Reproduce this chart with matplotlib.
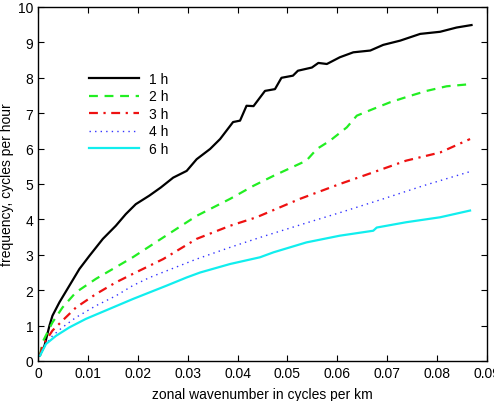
import matplotlib
matplotlib.use("Agg")
import matplotlib.pyplot as plt

plt.rcParams['font.family'] = ['Liberation Sans', 'DejaVu Sans']

labels = ["1 h", "2 h", "3 h", "4 h", "6 h"]

x_1h = [0.0003, 0.0013, 0.0023, 0.0029, 0.0043, 0.0063, 0.0083, 0.0103, 0.0130, 0.0156,
        0.0176, 0.0196, 0.0223, 0.0246, 0.0271, 0.0298, 0.0318, 0.0345, 0.0365, 0.0391,
        0.0405, 0.0418, 0.0432, 0.0455, 0.0475, 0.0488, 0.0511, 0.0521, 0.0549, 0.0562,
        0.0579, 0.0605, 0.0632, 0.0666, 0.0692, 0.0726, 0.0766, 0.0806, 0.0839, 0.0869]
y_1h = [0.15, 0.43, 1.00, 1.28, 1.66, 2.13, 2.60, 2.97, 3.45, 3.82,
        4.15, 4.43, 4.67, 4.90, 5.18, 5.37, 5.70, 5.99, 6.27, 6.75,
        6.79, 7.21, 7.20, 7.63, 7.68, 8.00, 8.06, 8.20, 8.29, 8.42,
        8.39, 8.58, 8.72, 8.77, 8.93, 9.05, 9.24, 9.30, 9.42, 9.49]

x_2h = [0.0004, 0.0009, 0.0029, 0.0049, 0.0076, 0.0116, 0.0156, 0.0190, 0.0251, 0.0318,
        0.0385, 0.0432, 0.0472, 0.0538, 0.0559, 0.0585, 0.0619, 0.0639, 0.0672, 0.0706,
        0.0746, 0.0779, 0.0819, 0.0866]
y_2h = [0.15, 0.53, 1.09, 1.51, 1.94, 2.32, 2.65, 2.93, 3.49, 4.10,
        4.58, 4.95, 5.23, 5.66, 5.99, 6.22, 6.60, 6.93, 7.12, 7.31,
        7.49, 7.63, 7.76, 7.82]

x_3h = [0.0004, 0.0009, 0.0029, 0.0049, 0.0076, 0.0116, 0.0156, 0.0190, 0.0251, 0.0318,
        0.0385, 0.0438, 0.0525, 0.0605, 0.0672, 0.0738, 0.0806, 0.0866]
y_3h = [0.15, 0.43, 0.86, 1.14, 1.51, 1.89, 2.22, 2.46, 2.88, 3.45,
        3.82, 4.06, 4.58, 5.00, 5.33, 5.66, 5.89, 6.27]

x_4h = [0.0004, 0.0013, 0.0029, 0.0049, 0.0076, 0.0116, 0.0156, 0.0190, 0.0224, 0.0318,
        0.0385, 0.0445, 0.0538, 0.0605, 0.0692, 0.0772, 0.0866]
y_4h = [0.15, 0.43, 0.71, 0.95, 1.23, 1.56, 1.84, 2.13, 2.36, 2.88,
        3.21, 3.49, 3.90, 4.19, 4.58, 4.95, 5.35]

x_6h = [0.0004, 0.0016, 0.0036, 0.0063, 0.0096, 0.0143, 0.0190, 0.0258, 0.0298, 0.0325,
        0.0385, 0.0445, 0.0472, 0.0538, 0.0605, 0.0672, 0.0679, 0.0738, 0.0806, 0.0866]
y_6h = [0.15, 0.48, 0.71, 0.95, 1.19, 1.47, 1.75, 2.13, 2.36, 2.50,
        2.74, 2.93, 3.07, 3.35, 3.54, 3.68, 3.77, 3.92, 4.06, 4.25]

xticks = [0, 0.01, 0.02, 0.03, 0.04, 0.05, 0.06, 0.07, 0.08, 0.09]
xticklabels = ["0", "0.01", "0.02", "0.03", "0.04", "0.05", "0.06", "0.07", "0.08", "0.09"]
yticks = list(range(0, 11))

W, H = 494, 402
FS = 10
fig = plt.figure(figsize=(W / 100, H / 100), dpi=100)
ax = fig.add_axes([38 / W, 1 - 362 / H, (487 - 38) / W, (362 - 8) / H])

ax.plot(x_1h, y_1h, color='black', lw=1.6, ls='-', label=labels[0])
ax.plot(x_2h, y_2h, color='#22ee22', lw=1.6, ls=(0, (4, 3)), label=labels[1])
ax.plot(x_3h, y_3h, color='#ee1111', lw=1.6, ls=(0, (4, 2.5, 1, 2.5)), label=labels[2])
ax.plot(x_4h, y_4h, color='#3333ff', lw=1.0, ls=(0, (1, 3)), label=labels[3])
ax.plot(x_6h, y_6h, color='#11eeee', lw=1.6, ls='-', label=labels[4])

ax.set_xlim(0, 0.09)
ax.set_ylim(0, 10)
ax.set_xticks(xticks)
ax.set_xticklabels(xticklabels)
ax.set_yticks(yticks)
ax.tick_params(direction='in', top=True, right=True, length=4, width=0.8,
               labelsize=FS, pad=3.5)
for s in ax.spines.values():
    s.set_linewidth(1.0)

ax.set_xlabel("zonal wavenumber in cycles per km", fontsize=FS, labelpad=5)
ax.set_ylabel("frequency, cycles per hour", fontsize=FS)
ax.yaxis.set_label_coords(-0.054, 0.5)

leg = ax.legend(loc='upper left', bbox_to_anchor=(82 / W, 1 - 66 / H),
                bbox_transform=fig.transFigure, frameon=False, fontsize=FS,
                handlelength=3.6, handletextpad=0.72, labelspacing=0.25,
                borderpad=0.0)

fig.savefig("out.png", dpi=100)
